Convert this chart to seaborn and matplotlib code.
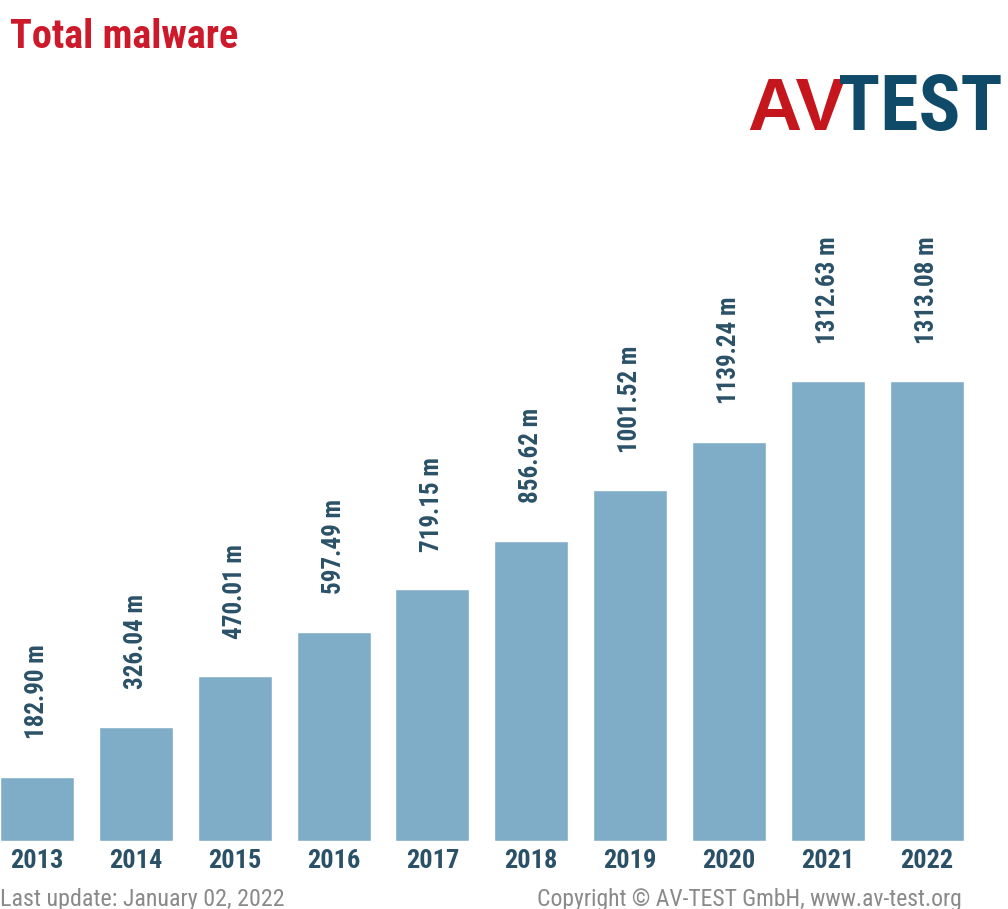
import matplotlib
matplotlib.use("Agg")
import matplotlib.pyplot as plt
from matplotlib import font_manager
import seaborn as sns
import pandas as pd

years = ["2013", "2014", "2015", "2016", "2017", "2018", "2019", "2020", "2021", "2022"]
malware_millions = [182.90, 326.04, 470.01, 597.49, 719.15, 856.62, 1001.52, 1139.24, 1312.63, 1313.08]
value_labels = [f"{v:.2f} m" for v in malware_millions]

title_text = "Total malware"
footer_left = "Last update: January 02, 2022"
footer_right = "Copyright © AV-TEST GmbH, www.av-test.org"

BAR_COLOR = "#7fadc7"
TEXT_DARK = "#2b5168"
TITLE_RED = "#cc1a2b"
LOGO_RED = "#c4161c"
LOGO_BLUE = "#0f4a68"
FOOTER_GRAY = "#8a8a8a"

sns.set_theme(style="white")
installed = {f.name for f in font_manager.fontManager.ttflist}
narrow = "Liberation Sans Narrow" if "Liberation Sans Narrow" in installed else "Roboto Condensed"
if narrow not in installed:
    narrow = "Liberation Sans"
plt.rcParams["font.family"] = [narrow, "DejaVu Sans"]

df = pd.DataFrame({"year": years, "value": malware_millions})

fig = plt.figure(figsize=(10.08, 9.09), dpi=100)
ax = fig.add_axes([0.0, 68 / 909, 976 / 1008, 490.4 / 909])

sns.barplot(data=df, x="year", y="value", color=BAR_COLOR, saturation=1,
            width=0.75, ax=ax)

ax.set_xlim(-0.375, 9.5)
ax.set_ylim(0, 1400)
for s in ax.spines.values():
    s.set_visible(False)
ax.set_yticks([])
ax.set_xlabel("")
ax.set_ylabel("")
ax.tick_params(axis="x", length=0, pad=6, labelsize=19, labelcolor=TEXT_DARK)
for t in ax.get_xticklabels():
    t.set_fontweight("bold")

ax.bar_label(ax.containers[0], labels=value_labels, rotation=90, padding=27,
             fontsize=18, fontweight="bold", color=TEXT_DARK, clip_on=False)

fig.text(10 / 1008, 1 - 48 / 909, title_text, fontsize=29, fontweight="bold",
         color=TITLE_RED, ha="left", va="baseline")

# AV-TEST wordmark
fig.text(846 / 1008, 1 - 130 / 909, "AV", fontsize=54, fontweight="bold",
         color=LOGO_RED, ha="right", va="baseline", family="Liberation Sans")
fig.text(1003 / 1008, 1 - 130 / 909, "TEST", fontsize=56, fontweight="bold",
         color=LOGO_BLUE, ha="right", va="baseline")

fig.text(0 / 1008, 1 - 906 / 909, footer_left, fontsize=17.3, color=FOOTER_GRAY,
         ha="left", va="baseline")
fig.text(962 / 1008, 1 - 906 / 909, footer_right, fontsize=17, color=FOOTER_GRAY,
         ha="right", va="baseline")

fig.savefig("out.png", dpi=100)
